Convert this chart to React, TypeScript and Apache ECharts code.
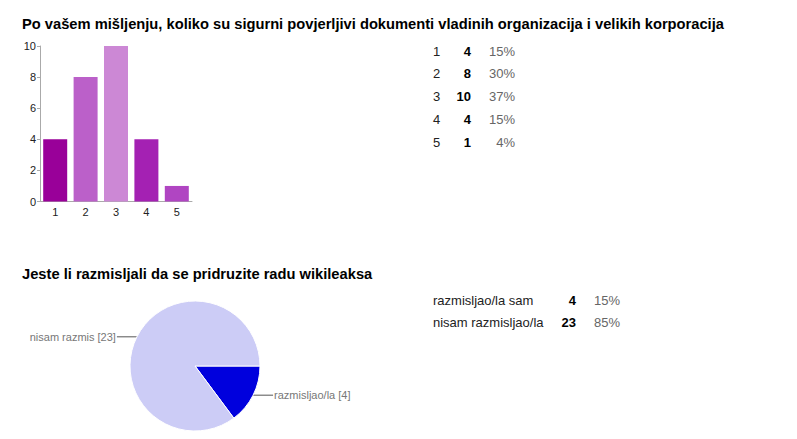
import React, { useEffect, useRef } from "react";
import * as echarts from "echarts";

const title1 = "Po vašem mišljenju, koliko su sigurni povjerljivi dokumenti vladinih organizacija i velikih korporacija";
const title2 = "Jeste li razmisljali da se pridruzite radu wikileaksa";

const barCategories = ["1", "2", "3", "4", "5"];
const barValues = [4, 8, 10, 4, 1];
const barPercents = ["15%", "30%", "37%", "15%", "4%"];
const barColors = ["#990099", "#bb60c9", "#cc88d5", "#a421b3", "#b045c2"];

const pieShortNames = ["razmisljao/la", "nisam razmis"];
const pieFullNames = ["razmisljao/la sam", "nisam razmisljao/la"];
const pieValues = [4, 23];
const piePercents = ["15%", "85%"];
const pieColors = ["#0000dd", "#ccccf6"];

const FONT = "Arial, 'Liberation Sans', sans-serif";

export default function App() {
  const ref = useRef<HTMLDivElement>(null);
  useEffect(() => {
    if (!ref.current) return;
    const chart = echarts.init(ref.current, null, { renderer: "svg" });

    const graphic: any[] = [
      {
        type: "text", left: 14, top: 8,
        style: { text: title1, font: `bold 14.7px ${FONT}`, fill: "#000" },
      },
      {
        type: "text", left: 14, top: 258,
        style: { text: title2, font: `bold 14.7px ${FONT}`, fill: "#000" },
      },
    ];
    barCategories.forEach((c, i) => {
      const y = 43 + i * 22.9;
      graphic.push(
        { type: "text", x: 425, y, style: { text: c, font: `13px ${FONT}`, fill: "#222", align: "left", verticalAlign: "middle" } },
        { type: "text", x: 463, y, style: { text: String(barValues[i]), font: `bold 13px ${FONT}`, fill: "#000", align: "right", verticalAlign: "middle" } },
        { type: "text", x: 507, y, style: { text: barPercents[i], font: `13px ${FONT}`, fill: "#666", align: "right", verticalAlign: "middle" } }
      );
    });
    pieFullNames.forEach((n, i) => {
      const y = 292 + i * 22.7;
      graphic.push(
        { type: "text", x: 425, y, style: { text: n, font: `13px ${FONT}`, fill: "#222", align: "left", verticalAlign: "middle" } },
        { type: "text", x: 568, y, style: { text: String(pieValues[i]), font: `bold 13px ${FONT}`, fill: "#000", align: "right", verticalAlign: "middle" } },
        { type: "text", x: 612, y, style: { text: piePercents[i], font: `13px ${FONT}`, fill: "#666", align: "right", verticalAlign: "middle" } }
      );
    });

    chart.setOption({
      animation: false,
      backgroundColor: "#fff",
      textStyle: { fontFamily: FONT },
      grid: { left: 32, top: 38, width: 152, height: 155.5, containLabel: false },
      xAxis: {
        type: "category",
        data: barCategories,
        axisLine: { lineStyle: { color: "#aaa", width: 1 } },
        axisTick: { show: false },
        axisLabel: { color: "#222", fontSize: 11, margin: 5 },
      },
      yAxis: {
        type: "value",
        min: 0, max: 10, interval: 2,
        axisLine: { show: true, lineStyle: { color: "#aaa", width: 1 } },
        axisTick: { show: true, length: 3, lineStyle: { color: "#aaa" } },
        axisLabel: { color: "#222", fontSize: 11, margin: 4 },
        splitLine: { show: false },
      },
      series: [
        {
          type: "bar",
          barWidth: 24,
          data: barValues.map((v, i) => ({ value: v, itemStyle: { color: barColors[i] } })),
        },
        {
          type: "pie",
          center: [187, 358],
          radius: 65,
          startAngle: 0,
          clockwise: true,
          avoidLabelOverlap: false,
          itemStyle: { borderColor: "#fff", borderWidth: 1 },
          label: {
            show: true, position: "outside", color: "#777", fontSize: 11,
            formatter: "{b} [{c}]", distanceToLabelLine: 1,
          },
          labelLine: { show: true, length: 0, length2: 20, lineStyle: { color: "#555", width: 1 } },
          data: pieValues.map((v, i) => ({ value: v, name: pieShortNames[i], itemStyle: { color: pieColors[i] } })),
        },
      ],
      graphic,
    });
    return () => chart.dispose();
  }, []);
  return <div ref={ref} style={{ width: 781, height: 423 }} />;
}
